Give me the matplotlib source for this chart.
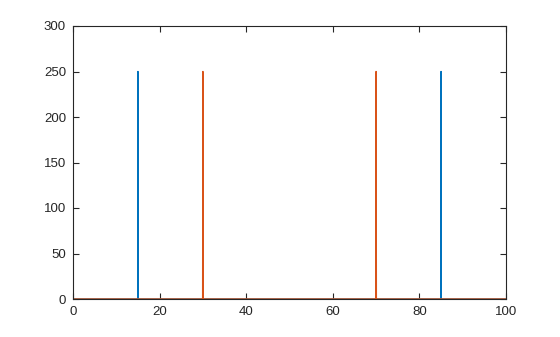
import matplotlib
matplotlib.use("Agg")
import matplotlib.pyplot as plt

plt.rcParams['font.family'] = ['Liberation Sans', 'DejaVu Sans']

# Blue series: flat zero with narrow peaks at 15 and 85
blue_x = [0, 14.95, 14.98, 15.0, 15.02, 15.05, 84.95, 84.98, 85.0, 85.02, 85.05, 100]
blue_y = [0, 0, 107, 250, 107, 0, 0, 107, 250, 107, 0, 0]

# Orange series: flat zero with narrow peaks at 30 and 70
orange_x = [0, 29.94, 29.96, 29.98, 29.99, 30.0, 30.01, 30.02, 30.04, 30.06,
            69.94, 69.96, 69.98, 69.99, 70.0, 70.01, 70.02, 70.04, 70.06, 100]
orange_y = [0, 0, 72, 143, 215, 250, 215, 143, 72, 0,
            0, 72, 143, 215, 250, 215, 143, 72, 0, 0]

x_ticks = [0, 20, 40, 60, 80, 100]
y_ticks = [0, 50, 100, 150, 200, 250, 300]

fig = plt.figure(figsize=(5.6, 3.37), dpi=100)
ax = fig.add_axes([73/560, 1 - 299/337, (506-73)/560, (299-26)/337])
ax.plot(blue_x, blue_y, color='#0072BD', linewidth=1.0)
ax.plot(orange_x, orange_y, color='#D95319', linewidth=1.0)
ax.set_xlim(0, 100)
ax.set_ylim(0, 300)
ax.set_xticks(x_ticks)
ax.set_yticks(y_ticks)
ax.tick_params(direction='in', top=True, right=True, length=4, width=0.8,
               labelsize=9.5, pad=5, colors='#262626', labelcolor='#262626')
for s in ax.spines.values():
    s.set_linewidth(0.8)
    s.set_color('#262626')
fig.savefig('out.png', dpi=100)
